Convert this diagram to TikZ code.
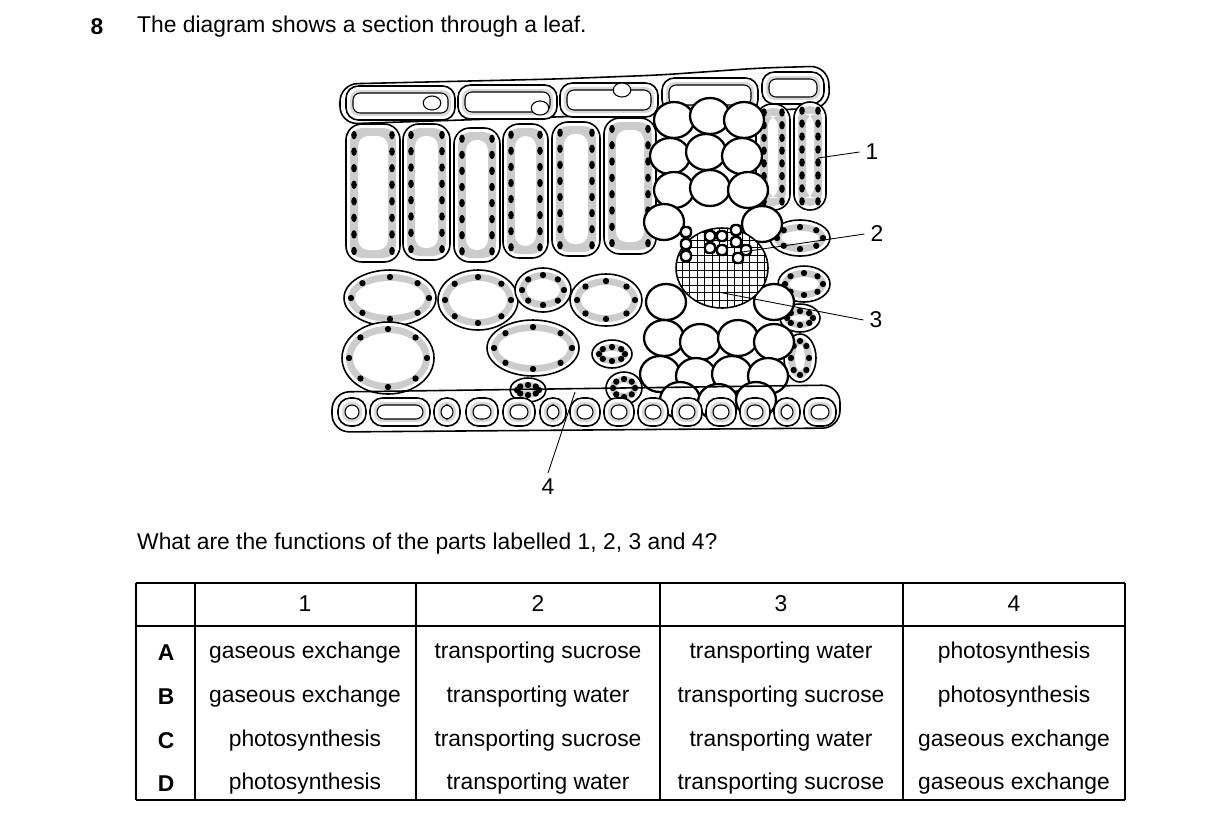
\documentclass[tikz,border=0pt]{standalone}
\usepackage{fontspec}
\setmainfont{Liberation Sans}
\usepackage{tikz}
\usetikzlibrary{positioning}

\tikzset{
  wall/.style={draw=black, line width=0.9pt, fill=white},
  thickwall/.style={draw=black, line width=1.3pt, fill=white},
  lbl/.style={font=\fontsize{13}{15}\selectfont},
  pointer/.style={draw=black, line width=0.5pt}
}

% palisade-like cell: x1 y1 x2 y2
\newcommand{\palcell}[4]{%
  \draw[wall, rounded corners=9pt] (#1,#2) rectangle (#3,#4);
  \fill[gray!40, rounded corners=7pt] (#1+4,#2+4) rectangle (#3-4,#4-4);
  \fill[white, rounded corners=6pt] (#1+12,#2+12) rectangle (#3-12,#4-12);
  \foreach \t in {0.08,0.2,...,0.93} {
    \fill ({#1+8},{#2+(#4-#2)*\t}) ellipse (1.6pt and 2.4pt);
    \fill ({#3-8},{#2+(#4-#2)*\t}) ellipse (1.6pt and 2.4pt);
  }
}
% spongy cell: cx cy rx ry (pixels)
\newcommand{\spcell}[4]{%
  \draw[wall] (#1,#2) ellipse ({#3*0.02cm} and {#4*0.02cm});
  \fill[gray!40] (#1,#2) ellipse ({(#3-4)*0.02cm} and {(#4-4)*0.02cm});
  \fill[white] (#1,#2) ellipse ({(#3-11)*0.02cm} and {(#4-11)*0.02cm});
  \foreach \a in {0,45,...,315}
    \fill ({#1+(#3-7)*cos(\a)},{#2+(#4-7)*sin(\a)}) circle (1.8pt);
}
% epidermis cell: x1 y1 x2 y2
\newcommand{\epicell}[4]{%
  \draw[wall, rounded corners=7pt] (#1,#2) rectangle (#3,#4);
  \fill[gray!30, rounded corners=5pt] (#1+4,#2+4) rectangle (#3-4,#4-4);
  \draw[line width=0.6pt, fill=white, rounded corners=4pt] (#1+7,#2+7) rectangle (#3-7,#4-7);
}

\begin{document}
\begin{tikzpicture}[x=0.02cm, y=-0.02cm]
  \useasboundingbox (0,0) rectangle (1216,826);

  %% question
  \node[lbl, font=\fontsize{13}{15}\selectfont\bfseries] (qnum) at (97,27) {8};
  \node[lbl, anchor=west] (qtext) at (131,27) {The diagram shows a section through a leaf.};

  %% upper epidermis
  \draw[line width=0.9pt, rounded corners=10pt] (340,84) -- (556,79) -- (660,75) -- (760,68) -- (828,66) -- (830,108) -- (340,124) -- cycle;
  \epicell{346}{86}{455}{120}
  \epicell{458}{85}{557}{119}
  \epicell{560}{83}{658}{117}
  \epicell{662}{78}{758}{112}
  \epicell{762}{72}{824}{104}
  \draw[line width=0.6pt, fill=white] (432,103) ellipse (5pt and 4pt);
  \draw[line width=0.6pt, fill=white] (540,108) ellipse (5pt and 4pt);
  \draw[line width=0.6pt, fill=white] (622,90) ellipse (5pt and 4pt);

  %% palisade
  \palcell{346}{124}{400}{262}
  \palcell{403}{124}{450}{260}
  \palcell{454}{128}{500}{262}
  \palcell{503}{124}{548}{258}
  \palcell{552}{122}{600}{256}
  \palcell{604}{118}{656}{254}
  \palcell{756}{104}{790}{210}
  \palcell{794}{102}{826}{210}

  %% spongy
  \spcell{390}{298}{46}{28}
  \spcell{478}{300}{40}{30}
  \spcell{543}{290}{28}{22}
  \spcell{606}{300}{36}{26}
  \spcell{388}{358}{46}{36}
  \spcell{533}{348}{46}{28}
  \spcell{612}{354}{20}{14}
  \spcell{624}{388}{18}{16}
  \spcell{528}{390}{18}{12}
  \spcell{800}{238}{30}{18}
  \spcell{804}{284}{26}{18}
  \spcell{800}{318}{20}{14}
  \spcell{800}{358}{16}{24}

  %% vascular bundle, large cells
  \foreach \cx/\cy in {674/120,710/116,744/120,670/156,706/152,742/156,
      674/190,710/188,748/190,664/222,762/224,666/302,774/302,
      664/338,700/342,738/338,774/342,660/374,696/376,732/374,768/376,
      680/400,718/402,756/400}
    \draw[thickwall] (\cx,\cy) ellipse (0.4cm and 0.36cm);
  %% phloem and xylem core
  \begin{scope}
    \clip (722,268) ellipse (0.92cm and 0.8cm);
    \fill[white] (722,268) ellipse (0.92cm and 0.8cm);
    \draw[line width=0.4pt, step=0.15cm] (670,220) grid (780,320);
  \end{scope}
  \draw[line width=0.9pt] (722,268) ellipse (0.92cm and 0.8cm);
  \foreach \xx/\yy in {686/232,686/244,686/256,710/236,710/248,722/236,722/250,
      736/230,736/242,746/250,738/258}
    \draw[line width=1.4pt, fill=white, rounded corners=2pt] (\xx-5,\yy-5) rectangle (\xx+5,\yy+5);

  %% lower epidermis
  \draw[line width=0.9pt, rounded corners=10pt] (332,392) -- (840,385) -- (840,428) -- (332,432) -- cycle;
  \foreach \xa/\xb in {338/366,370/430,434/460,466/498,503/535,540/566,570/600,
      604/634,638/668,672/702,706/736,740/770,774/800,804/836}
    \epicell{\xa}{398}{\xb}{426};

  %% pointers and labels
  \node[lbl] (l1) at (872,152) {1};
  \node[lbl] (l2) at (877,234) {2};
  \node[lbl] (l3) at (876,320) {3};
  \node[lbl] (l4) at (548,487) {4};
  \coordinate (p1) at (818,158);
  \coordinate (p2) at (742,252);
  \coordinate (p3) at (718,292);
  \coordinate (p4) at (575,392);
  \draw[pointer] (p1) -- (l1.west);
  \draw[pointer] (p2) -- (l2.west);
  \draw[pointer] (p3) -- (l3.west);
  \draw[pointer] (p4) -- (l4.north);

  \node[lbl, anchor=west] (q2) at (131,544) {What are the functions of the parts labelled 1, 2, 3 and 4?};

  %% table
  \draw[line width=0.8pt] (136,583) -- (1125,583) (136,626) -- (1125,626) (136,800) -- (1125,800);
  \foreach \xx in {136,195,416,660,903,1125}
    \draw[line width=0.8pt] (\xx,583) -- (\xx,800);
  \foreach \xx/\hd in {305/1,538/2,781/3,1014/4}
    \node[lbl] at (\xx,604) {\hd};
  \foreach \yy/\ll/\a/\b/\c/\d in {
      653/A/gaseous exchange/transporting sucrose/transporting water/photosynthesis,
      697/B/gaseous exchange/transporting water/transporting sucrose/photosynthesis,
      741/C/photosynthesis/transporting sucrose/transporting water/gaseous exchange,
      784/D/photosynthesis/transporting water/transporting sucrose/gaseous exchange} {
    \node[lbl, font=\fontsize{13}{15}\selectfont\bfseries] at (166,\yy) {\ll};
    \node[lbl] at (305,\yy) {\a};
    \node[lbl] at (538,\yy) {\b};
    \node[lbl] at (781,\yy) {\c};
    \node[lbl] at (1014,\yy) {\d};
  }
\end{tikzpicture}
\end{document}
